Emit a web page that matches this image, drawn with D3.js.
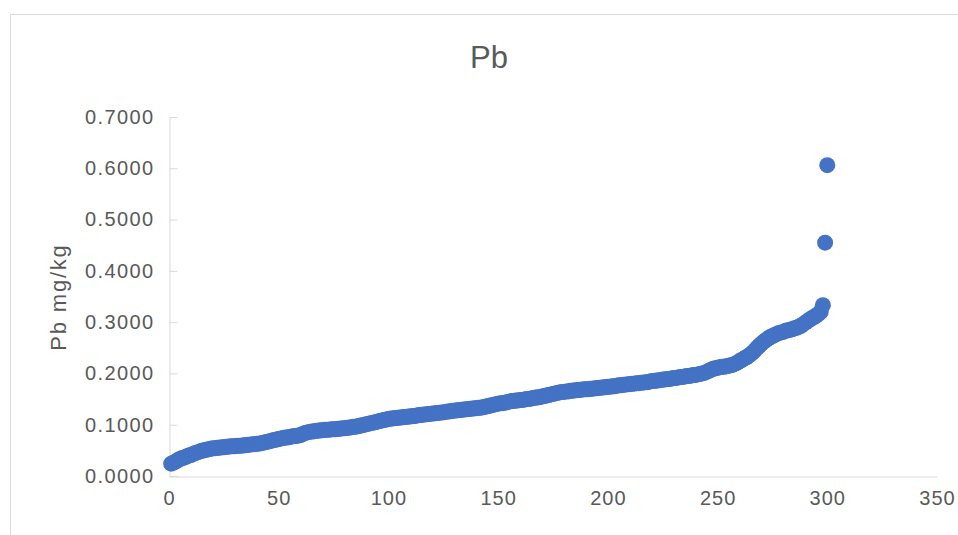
<!DOCTYPE html>
<html>
<head>
<meta charset="utf-8">
<script src="https://cdn.jsdelivr.net/npm/d3@7"></script>
<style>
  html, body { margin: 0; padding: 0; background: #ffffff; }
  svg { display: block; }
  text { font-family: "Liberation Sans", Arial, sans-serif; fill: #595959; }
</style>
</head>
<body>
<svg id="chart" width="958" height="535"></svg>
<script>
// Pb concentration of each sample, sorted ascending (mg/kg)
const sampleIndex = d3.range(1, 301);
const pbValues = [
  0.024, 0.026, 0.028, 0.031, 0.033, 0.035, 0.036, 0.038, 0.040, 0.041,
  0.043, 0.045, 0.046, 0.048, 0.049, 0.050, 0.051, 0.052, 0.053, 0.054,
  0.054, 0.055, 0.055, 0.056, 0.056, 0.057, 0.057, 0.058, 0.058, 0.058,
  0.059, 0.059, 0.059, 0.060, 0.060, 0.061, 0.061, 0.062, 0.062, 0.063,
  0.063, 0.064, 0.065, 0.066, 0.067, 0.068, 0.069, 0.070, 0.071, 0.072,
  0.073, 0.074, 0.075, 0.075, 0.076, 0.077, 0.078, 0.078, 0.079, 0.080,
  0.082, 0.084, 0.085, 0.086, 0.087, 0.087, 0.088, 0.088, 0.089, 0.089,
  0.090, 0.090, 0.090, 0.091, 0.091, 0.091, 0.092, 0.092, 0.093, 0.093,
  0.094, 0.094, 0.095, 0.096, 0.096, 0.097, 0.098, 0.099, 0.100, 0.101,
  0.102, 0.103, 0.104, 0.105, 0.106, 0.107, 0.108, 0.109, 0.110, 0.111,
  0.112, 0.112, 0.113, 0.113, 0.114, 0.114, 0.115, 0.115, 0.116, 0.116,
  0.117, 0.117, 0.118, 0.119, 0.119, 0.120, 0.120, 0.121, 0.121, 0.122,
  0.122, 0.123, 0.123, 0.124, 0.124, 0.125, 0.126, 0.126, 0.127, 0.127,
  0.128, 0.128, 0.129, 0.129, 0.130, 0.130, 0.131, 0.131, 0.132, 0.132,
  0.133, 0.133, 0.134, 0.135, 0.136, 0.137, 0.138, 0.139, 0.140, 0.141,
  0.142, 0.142, 0.143, 0.144, 0.145, 0.146, 0.146, 0.147, 0.147, 0.148,
  0.148, 0.149, 0.150, 0.150, 0.151, 0.152, 0.153, 0.153, 0.154, 0.155,
  0.156, 0.157, 0.158, 0.159, 0.160, 0.161, 0.162, 0.163, 0.164, 0.164,
  0.165, 0.165, 0.166, 0.166, 0.167, 0.167, 0.168, 0.168, 0.169, 0.169,
  0.169, 0.170, 0.170, 0.171, 0.171, 0.172, 0.172, 0.173, 0.173, 0.174,
  0.174, 0.175, 0.175, 0.176, 0.177, 0.177, 0.178, 0.178, 0.179, 0.179,
  0.180, 0.180, 0.181, 0.181, 0.182, 0.182, 0.183, 0.183, 0.184, 0.185,
  0.185, 0.186, 0.186, 0.187, 0.188, 0.188, 0.189, 0.189, 0.190, 0.191,
  0.191, 0.192, 0.193, 0.193, 0.194, 0.195, 0.195, 0.196, 0.197, 0.197,
  0.198, 0.199, 0.200, 0.201, 0.203, 0.205, 0.207, 0.209, 0.210, 0.211,
  0.212, 0.213, 0.213, 0.214, 0.215, 0.216, 0.217, 0.219, 0.221, 0.224,
  0.226, 0.229, 0.231, 0.234, 0.237, 0.241, 0.245, 0.250, 0.254, 0.258,
  0.262, 0.265, 0.268, 0.271, 0.273, 0.275, 0.277, 0.279, 0.280, 0.281,
  0.283, 0.284, 0.285, 0.286, 0.288, 0.289, 0.291, 0.293, 0.296, 0.299,
  0.302, 0.305, 0.308, 0.310, 0.313, 0.316, 0.320, 0.333, 0.455, 0.606
];
const xTicks = [0, 50, 100, 150, 200, 250, 300, 350];
const yTicks = [0, 0.1, 0.2, 0.3, 0.4, 0.5, 0.6, 0.7];
const chartTitle = "Pb";
const yAxisTitle = "Pb mg/kg";

const svg = d3.select("#chart");
const axisColor = "#d9d9d9";
const markColor = "#4472c4";

// chart frame
svg.append("rect")
  .attr("x", 10.5).attr("y", 14.5)
  .attr("width", 960).attr("height", 540)
  .attr("fill", "none").attr("stroke", axisColor).attr("stroke-width", 1);

const x = d3.scaleLinear().domain([0, 350]).range([169, 937]);
const y = d3.scaleLinear().domain([0, 0.7]).range([476, 117]);

// y axis with inward ticks
const yAxis = svg.append("g")
  .attr("transform", "translate(169.5,0)")
  .call(d3.axisLeft(y).tickValues(yTicks).tickFormat(d3.format(".4f"))
    .tickSizeInner(-8).tickSizeOuter(0).tickPadding(15));
yAxis.select(".domain").attr("stroke", axisColor);
yAxis.selectAll(".tick line").attr("stroke", axisColor);
yAxis.selectAll(".tick text")
  .attr("fill", "#595959")
  .style("font-size", "20px")
  .style("letter-spacing", "1.4px")
  .style("font-family", "'Liberation Sans', Arial, sans-serif");

// x axis
const xAxis = svg.append("g")
  .attr("transform", "translate(0,476.5)")
  .call(d3.axisBottom(x).tickValues(xTicks).tickFormat(d3.format("d"))
    .tickSize(0).tickPadding(14));
xAxis.select(".domain").attr("stroke", axisColor);
xAxis.selectAll(".tick text")
  .attr("fill", "#595959")
  .style("font-size", "20px")
  .style("letter-spacing", "1px")
  .style("font-family", "'Liberation Sans', Arial, sans-serif");

// title
svg.append("text")
  .attr("x", 489).attr("y", 68)
  .attr("text-anchor", "middle")
  .style("font-size", "31px")
  .text(chartTitle);

// y axis title
svg.append("text")
  .attr("transform", "translate(66,297) rotate(-90)")
  .attr("text-anchor", "middle")
  .style("font-size", "22px")
  .style("letter-spacing", "1.8px")
  .text(yAxisTitle);

// sample points
const points = sampleIndex.map((i, k) => ({ i, v: pbValues[k] }));
svg.append("g")
  .selectAll("circle")
  .data(points)
  .join("circle")
  .attr("cx", d => x(d.i))
  .attr("cy", d => y(d.v))
  .attr("r", 8)
  .attr("fill", markColor);
</script>
</body>
</html>
